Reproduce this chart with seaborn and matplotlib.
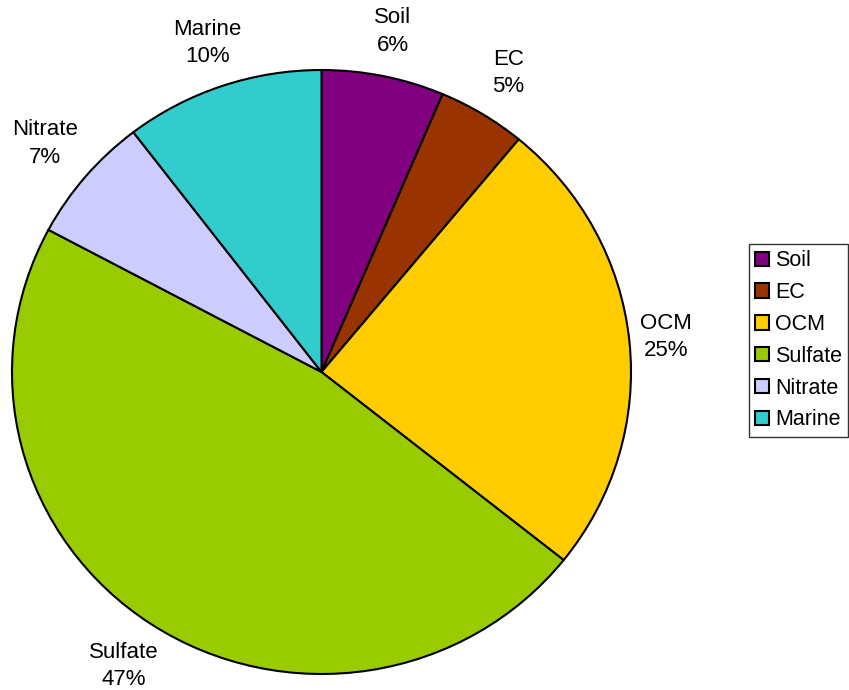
"""
Pie chart of source contributions (PM2.5 apportionment)
"""

import matplotlib
matplotlib.use('Agg')
import numpy as np
import matplotlib.pyplot as plt
import seaborn as sns

sns.set_theme(style="white")
plt.rcParams['font.family'] = ['Liberation Sans', 'DejaVu Sans']
plt.rcParams['text.color'] = 'black'

# Data
sources = ['Soil', 'EC', 'OCM', 'Sulfate', 'Nitrate', 'Marine']
shares = [6.4, 4.6, 24.7, 47.1, 6.8, 10.4]
colors = ['#800080', '#993300', '#FFCC00', '#99CC00', '#CCCCFF', '#33CCCC']
# how far out each label sits (in radii)
label_dist = [1.15, 1.16, 1.12, 1.165, 1.17, 1.15]

labels = [f'{s}\n{v:.0f}%' for s, v in zip(sources, shares)]

fig = plt.figure(figsize=(8.49, 6.9), dpi=100)
ax = fig.add_axes([12 / 849, 16 / 690, 619 / 849, 604 / 690])

wedges, texts = ax.pie(shares, labels=labels, colors=colors,
                       startangle=90, counterclock=False,
                       labeldistance=1.16,
                       wedgeprops=dict(edgecolor='black', linewidth=1.5),
                       textprops=dict(fontsize=16, color='black'))
for w, t, d in zip(wedges, texts, label_dist):
    ang = np.deg2rad((w.theta1 + w.theta2) / 2)
    t.set_position((d * np.cos(ang), d * np.sin(ang)))
    t.set_ha('center')
    t.set_va('center')
    t.set_multialignment('center')
    t.set_linespacing(1.4)
    t.set_clip_on(False)

ax.set_aspect('auto')
ax.set_xlim(-1, 1)
ax.set_ylim(-1, 1)
ax.axis('off')

leg = fig.legend(wedges, sources, loc='upper left',
                 bbox_to_anchor=(749 / 849, 1 - 244 / 690),
                 fontsize=15.5, frameon=True, fancybox=False,
                 handlelength=0.65, handleheight=0.65, handletextpad=0.25,
                 labelspacing=0.5, borderpad=0.3, borderaxespad=0)
leg.get_frame().set_edgecolor('black')
leg.get_frame().set_linewidth(1.0)
for h in leg.legend_handles:
    h.set_linewidth(1.5)
for txt in leg.get_texts():
    txt.set_color('black')

plt.savefig('out.png', dpi=100)
plt.close()
